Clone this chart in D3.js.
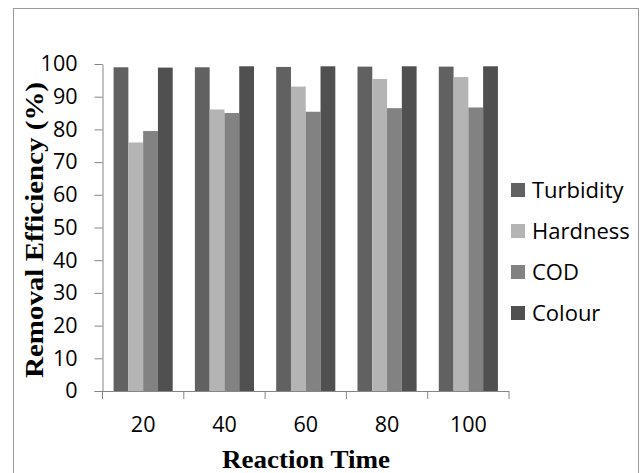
<!DOCTYPE html>
<html>
  <head>
    <meta charset="utf-8">
    <script src="https://d3js.org/d3.v7.min.js"></script>
    <title>Removal Efficiency vs Reaction Time</title>
    <style>
      body {
        margin: 0px;
        background: #fff;
      }
      .tick text {
        fill: #000;
        font-size: 21.5px;
        font-family: "Open Sans", sans-serif;
      }
      .axis path, .axis line {
        stroke: #868686;
      }
      .axis-label {
        fill: #000;
        font-size: 25px;
        font-weight: bold;
        font-family: "Liberation Serif", serif;
      }
      .legend text {
        fill: #000;
        font-size: 22px;
        font-family: "Open Sans", sans-serif;
      }
    </style>
  </head>
  <body>
    <div id="chart"></div>
    <script>
      // data
      const times = ['20', '40', '60', '80', '100'];
      const seriesNames = ['Turbidity', 'Hardness', 'COD', 'Colour'];
      const turbidity = [99.0, 99.0, 99.1, 99.2, 99.2];
      const hardness = [76.0, 86.1, 93.1, 95.4, 96.0];
      const cod = [79.5, 85.0, 85.4, 86.5, 86.7];
      const colour = [98.9, 99.3, 99.3, 99.3, 99.3];
      const yTicks = [0, 10, 20, 30, 40, 50, 60, 70, 80, 90, 100];

      const colours = ['#616161', '#b4b4b4', '#828282', '#505050'];
      const seriesValues = [turbidity, hardness, cod, colour];

      const width = 641, height = 473;
      const plot = { left: 102.5, right: 509, top: 64, bottom: 391 };

      const svg = d3.select('#chart').append('svg')
        .attr('width', width)
        .attr('height', height);

      // outer chart border
      svg.append('rect')
        .attr('x', 13.5)
        .attr('y', 8.5)
        .attr('width', 625)
        .attr('height', 480)
        .attr('fill', 'none')
        .attr('stroke', '#9a9a9a');

      const x = d3.scaleBand()
        .domain(times)
        .range([plot.left, plot.right]);

      const bw = x.bandwidth();
      const gap = bw * 1.5 / 5.5;
      const x1 = d3.scaleBand()
        .domain(seriesNames)
        .range([gap / 2, bw - gap / 2]);

      const y = d3.scaleLinear()
        .domain([0, 100])
        .range([plot.bottom, plot.top]);

      // bars
      const groups = svg.selectAll('.group').data(times)
        .enter().append('g')
        .attr('transform', d => `translate(${x(d)},0)`);

      groups.selectAll('rect')
        .data((t, i) => seriesNames.map((s, j) => ({ s, j, v: seriesValues[j][i] })))
        .enter().append('rect')
        .attr('x', d => x1(d.s))
        .attr('width', x1.bandwidth())
        .attr('y', d => y(d.v))
        .attr('height', d => y(0) - y(d.v))
        .attr('fill', d => colours[d.j]);

      // y axis
      svg.append('g')
        .attr('class', 'axis')
        .attr('transform', `translate(${plot.left},0)`)
        .call(d3.axisLeft(y).tickValues(yTicks).tickSize(8).tickSizeOuter(0).tickPadding(17));

      // x axis: labels at centres, tick marks at category boundaries
      const xAxisG = svg.append('g')
        .attr('class', 'axis')
        .attr('transform', `translate(0,${plot.bottom})`)
        .call(d3.axisBottom(x).tickSize(0).tickSizeOuter(0).tickPadding(26));

      xAxisG.select('.domain').attr('d', `M${plot.left - 8},0.5H${plot.right}`);

      xAxisG.selectAll('.bound')
        .data(times.map(t => x(t)).concat([x(times[times.length - 1]) + bw]))
        .enter().append('line')
        .attr('class', 'bound')
        .attr('x1', d => d).attr('x2', d => d)
        .attr('y1', 0).attr('y2', 8);

      // axis titles
      svg.append('text')
        .attr('class', 'axis-label')
        .attr('x', 306)
        .attr('y', 468)
        .attr('text-anchor', 'middle')
        .attr('textLength', 168)
        .attr('lengthAdjust', 'spacingAndGlyphs')
        .text('Reaction Time');

      svg.append('text')
        .attr('class', 'axis-label')
        .attr('transform', 'translate(43,230) rotate(-90)')
        .attr('text-anchor', 'middle')
        .attr('textLength', 296)
        .attr('lengthAdjust', 'spacingAndGlyphs')
        .text('Removal Efficiency (%)');

      // legend
      const legend = svg.append('g').attr('class', 'legend');
      const items = legend.selectAll('g').data(seriesNames)
        .enter().append('g')
        .attr('transform', (d, i) => `translate(511,${190 + i * 41})`);

      items.append('rect')
        .attr('x', 0).attr('y', -7)
        .attr('width', 14).attr('height', 14)
        .attr('fill', (d, i) => colours[i]);

      items.append('text')
        .attr('x', 21)
        .attr('y', 0)
        .attr('dy', '0.36em')
        .text(d => d);
    </script>
  </body>
</html>
